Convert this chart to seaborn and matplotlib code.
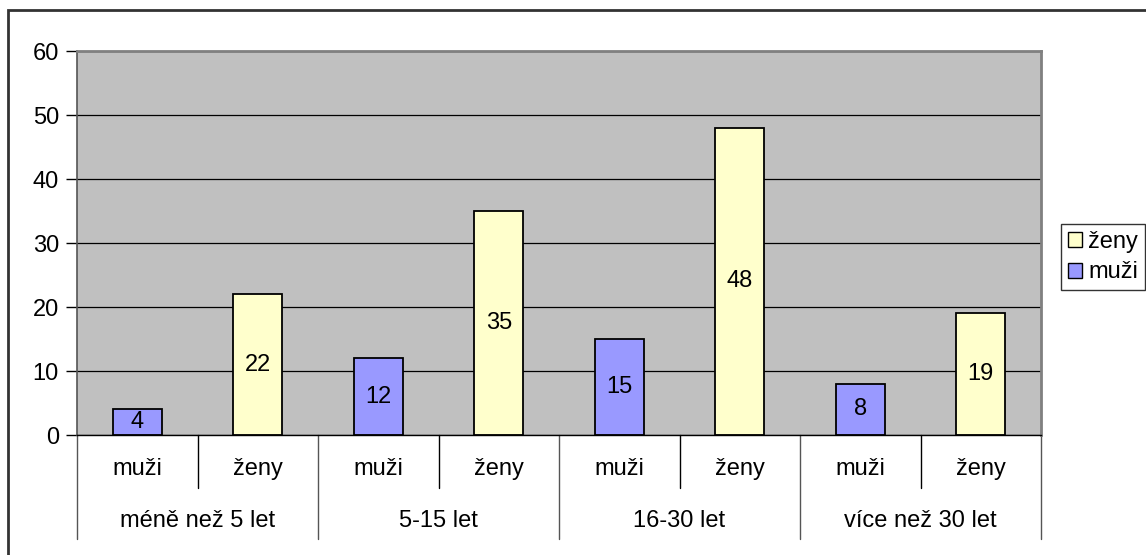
import matplotlib
matplotlib.use("Agg")
import matplotlib.pyplot as plt
import matplotlib.patches as mpatches
import pandas as pd
import seaborn as sns

skupiny = ["méně než 5 let", "5-15 let", "16-30 let", "více než 30 let"]
pohlavi = ["muži", "ženy"]
muzi = [4, 12, 15, 8]
zeny = [22, 35, 48, 19]

rows = []
for i, g in enumerate(skupiny):
    rows.append({"pos": 2 * i, "skupina": g, "pohlavi": "muži", "pocet": muzi[i]})
    rows.append({"pos": 2 * i + 1, "skupina": g, "pohlavi": "ženy", "pocet": zeny[i]})
data = pd.DataFrame(rows)

barvy = {"muži": "#9999FF", "ženy": "#FFFFCC"}
FS = 17

sns.set_style("white")
plt.rcParams["font.family"] = ["Liberation Sans", "DejaVu Sans"]
plt.rcParams["text.color"] = "black"
plt.rcParams["ytick.color"] = "black"
plt.rcParams["ytick.labelcolor"] = "black"

fig = plt.figure(figsize=(11.46, 5.55), dpi=100)
ax = fig.add_axes([77 / 1146, 1 - 435 / 555, 964 / 1146, 384 / 555])
ax.set_facecolor("#C0C0C0")

sns.barplot(data=data, x="pos", y="pocet", hue="pohlavi", dodge=False,
            palette=barvy, saturation=1, width=0.41, edgecolor="black",
            linewidth=1.3, legend=False, ax=ax)

for c in ax.containers:
    ax.bar_label(c, label_type="center", fontsize=FS, color="black")

ax.set_ylim(0, 60)
ax.set_xlim(-0.5, 7.5)
ax.set_yticks(range(0, 61, 10))
ax.tick_params(axis="y", labelsize=FS, length=8, width=1, color="black",
               labelcolor="black", direction="out", left=True, pad=5)
ax.set_xticks([])
ax.set_xlabel("")
ax.set_ylabel("")
ax.yaxis.grid(True, color="black", linewidth=0.9)
ax.set_axisbelow(True)

for side in ["top", "right"]:
    ax.spines[side].set_color("#808080")
    ax.spines[side].set_linewidth(2)
ax.spines["left"].set_color("#555555")
ax.spines["left"].set_linewidth(1.2)
ax.spines["bottom"].set_color("black")
ax.spines["bottom"].set_linewidth(1)

# dvouúrovňové popisky osy x
tr = ax.get_xaxis_transform()
for i, g in enumerate(skupiny):
    for j, p in enumerate(pohlavi):
        ax.text(2 * i + j, -0.088, p, transform=tr, ha="center", va="center",
                fontsize=FS, color="black")
    ax.text(2 * i + 0.5, -0.224, g, transform=tr, ha="center", va="center",
            fontsize=FS, color="black")
    ax.plot([2 * i + 0.5, 2 * i + 0.5], [0, -0.138], transform=tr,
            color="black", linewidth=1, clip_on=False)
for k in range(5):
    xb = 2 * k - 0.5
    ax.plot([xb, xb], [0, -0.27], transform=tr, color="#555555",
            linewidth=1, clip_on=False)

# legenda
handles = [mpatches.Patch(facecolor=barvy["ženy"], edgecolor="black", label="ženy"),
           mpatches.Patch(facecolor=barvy["muži"], edgecolor="black", label="muži")]
leg = fig.legend(handles=handles, loc="upper left",
                 bbox_to_anchor=(1061 / 1146, 1 - 224 / 555),
                 frameon=True, fontsize=FS, handlelength=0.6,
                 handleheight=0.6, handletextpad=0.25, borderpad=0.3,
                 labelspacing=0.35, fancybox=False, borderaxespad=0)
leg.get_frame().set_edgecolor("black")
leg.get_frame().set_linewidth(1)
for t in leg.get_texts():
    t.set_color("black")

# rámeček grafu
fig.patches.append(mpatches.Rectangle((8 / 1146, -0.1), 1.2, 1 - 10 / 555 + 0.1,
                                      transform=fig.transFigure, fill=False,
                                      edgecolor="#333333", linewidth=2))

fig.savefig("out.png", dpi=100)
